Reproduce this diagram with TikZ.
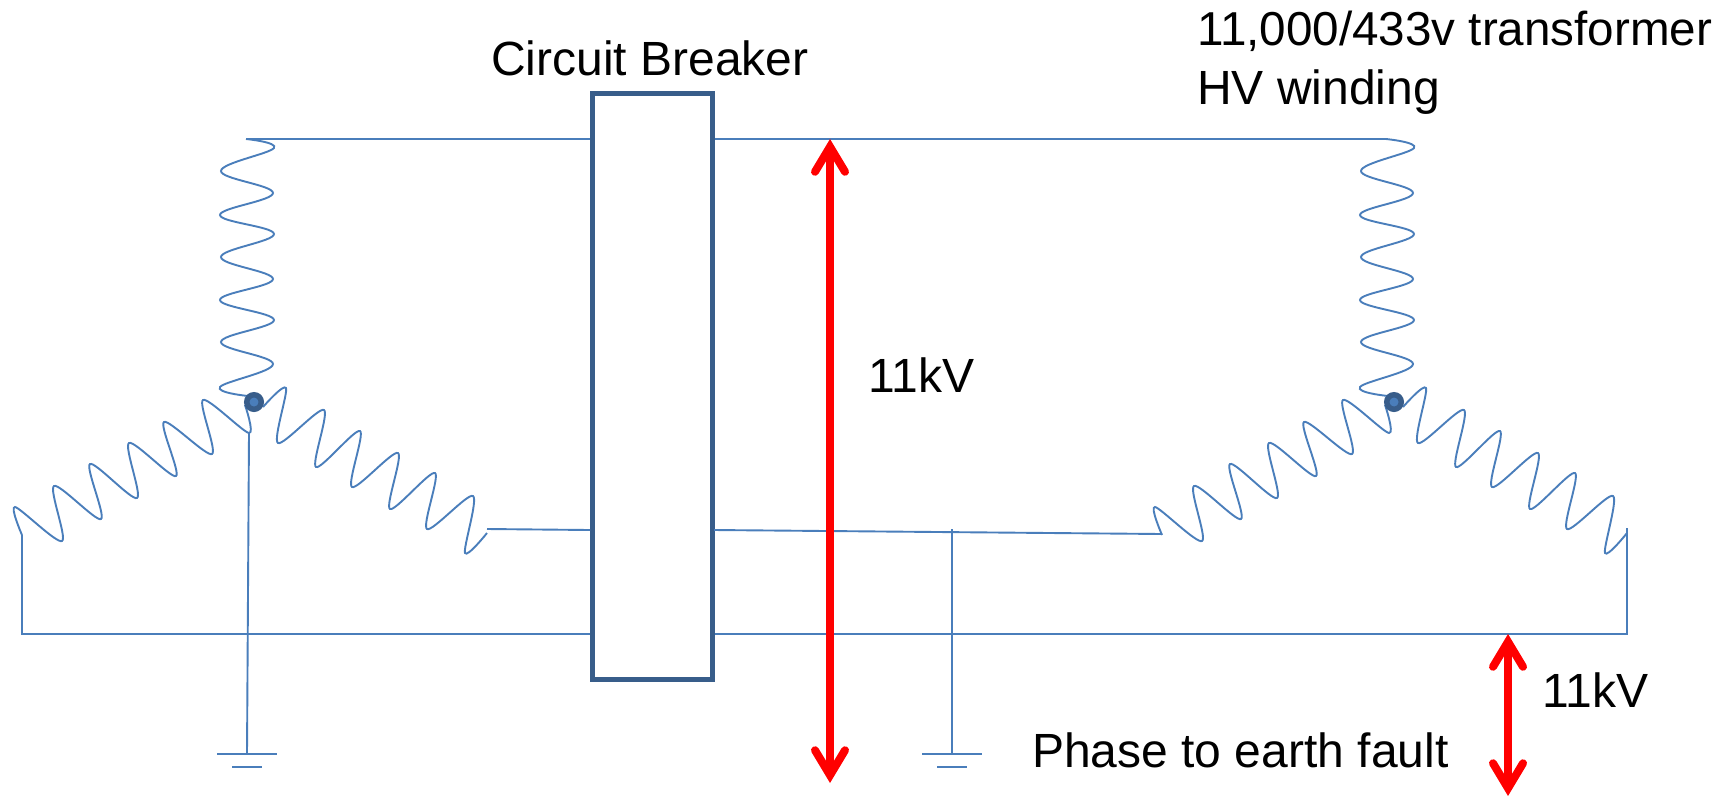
\documentclass[tikz,border=0pt]{standalone}
\usepackage{fontspec}
\setmainfont{Liberation Sans}
\usetikzlibrary{
    arrows.meta,
    calc,
}

\definecolor{wire}{HTML}{4A7EBB}
\definecolor{boxblue}{HTML}{385D8A}

% one star of windings
\newcommand{\starwindings}{%
    \draw[coil] plot[smooth, tension=0.65] coordinates {(246,139) (274,148) (221,171) (273,193) (220,215)
        (274,234) (221,257) (273,279) (220,300) (274,320) (221,342) (273,364) (220,387) (248,396)};
    \draw[coil] plot[smooth, tension=0.5] coordinates {(245,405) (249,433) (203,400) (212,454) (164,422) (176,476)
        (129,443) (137,498) (90,464) (101,519) (54,486) (62,541) (15,507) (22,535)};
    \draw[coil] plot[smooth, tension=0.5] coordinates {(263,407) (286,388) (278,443) (324,410) (316,467) (360,431)
        (352,487) (398,453) (390,509) (435,473) (427,529) (473,496) (465,553) (487,533)};
}

\begin{document}
\begin{tikzpicture}[
        x=1pt, y=-1pt,
        wireline/.style={draw=wire, line width=1.9pt},
        coil/.style={draw=wire, line width=1.9pt},
        breaker/.style={rectangle, draw=boxblue, fill=white, line width=5pt, minimum width=120pt, minimum height=586pt, inner sep=0pt},
        star/.style={circle, draw=boxblue, fill=wire, line width=5.5pt, minimum size=14.5pt, inner sep=0pt},
        volt/.style={draw=red, line width=7.5pt, >={Straight Barb[length=25pt,width=30pt,line width=8pt,line cap=round,line join=miter]}, <->},
        label/.style={inner sep=0pt, anchor=base west, font=\fontsize{48}{58}\selectfont},
        ]
        \useasboundingbox (0,0) rectangle (1731,796);
        % windings
        \starwindings
        \begin{scope}[xshift=1140pt]
            \starwindings
        \end{scope}
        \node[breaker] (CB) at (652,386.5) {};
        \node[star] (N1) at (254,402) {};
        \node[star] (N2) at (1394,402) {};
        % wire ends
        \coordinate (TL) at (246,139);
        \coordinate (TR) at (1386,139);
        \coordinate (ML) at (487,529);
        \coordinate (MR) at (1162,534);
        \coordinate (BL) at (22,634);
        \coordinate (BR) at (1627,634);
        \coordinate (LE) at (22,535);
        \coordinate (RE) at (1627,528);
        \coordinate (G1) at (247,754);
        \coordinate (GT) at (952,529);
        \coordinate (G2) at (952,754);
        % wires beside the breaker
        \draw[wireline] (TL) -- (TL -| CB.west);
        \draw[wireline] (TR -| CB.east) -- (TR);
        \draw[wireline] (ML) -- (590,530);
        \draw[wireline] (714,530) -- (MR);
        \draw[wireline] (LE) -- (BL) -- (BL -| CB.west);
        \draw[wireline] (BR -| CB.east) -- (BR) -- (RE);
        % earth connections
        \draw[wireline] (249,433) -- (G1);
        \draw[wireline] (GT) -- (G2);
        \draw[wireline] ($(G1)+(-30,0)$) -- ($(G1)+(30,0)$);
        \draw[wireline] ($(G1)+(-15,13)$) -- ($(G1)+(15,13)$);
        \draw[wireline] ($(G2)+(-30,0)$) -- ($(G2)+(30,0)$);
        \draw[wireline] ($(G2)+(-15,13)$) -- ($(G2)+(15,13)$);
        % voltage arrows
        \coordinate (V1T) at (830,139);
        \coordinate (V1B) at (830,783);
        \coordinate (V2T) at (1508,634);
        \coordinate (V2B) at (1508,796);
        \draw[volt] (V1T) -- (V1B);
        \draw[volt] (V2T) -- (V2B);
        % labels
        \node[label] (CBT) at (491,75) {Circuit Breaker};
        \node[label, font=\fontsize{47.6}{58}\selectfont] (HV1) at (1197,45) {11,000/433v transformer};
        \node[label] (HV2) at (1197,104) {HV winding};
        \node[label] (KV1) at (868,392) {11kV};
        \node[label] (KV2) at (1542,707) {11kV};
        \node[label] (PEF) at (1032,767) {Phase to earth fault};
    \end{tikzpicture}
\end{document}
